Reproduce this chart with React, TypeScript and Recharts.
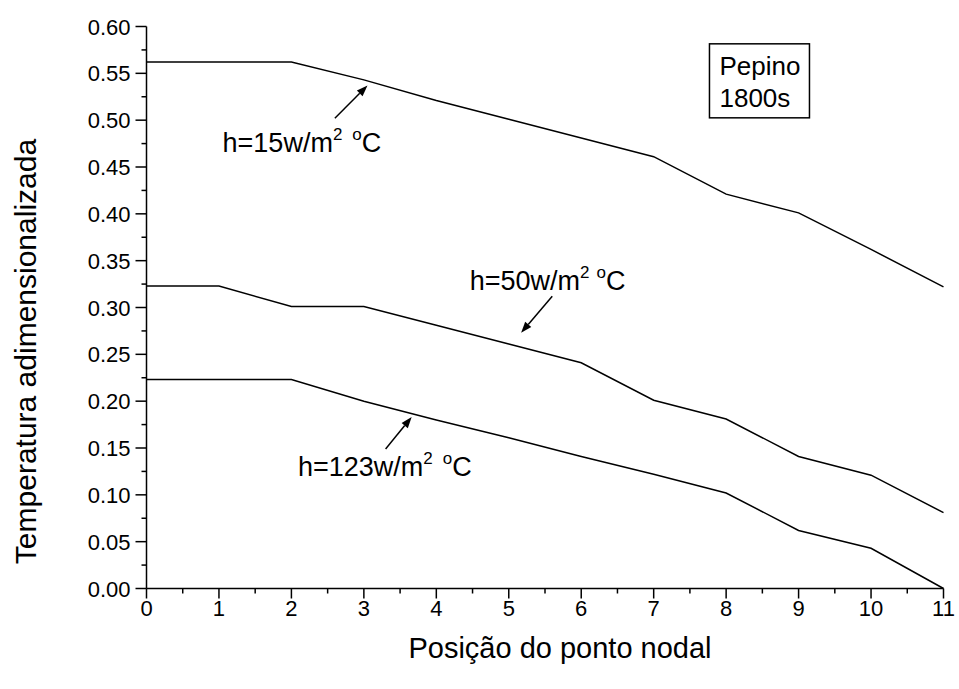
import React from 'react';
import { LineChart, Line, XAxis, YAxis, ReferenceLine, ReferenceDot, Label } from 'recharts';

const positions = [0, 1, 2, 3, 4, 5, 6, 7, 8, 9, 10, 11];
const h15 = [0.562, 0.562, 0.562, 0.543, 0.521, 0.501, 0.481, 0.461, 0.421, 0.401, 0.362, 0.322];
const h50 = [0.323, 0.323, 0.301, 0.301, 0.281, 0.261, 0.241, 0.201, 0.181, 0.141, 0.121, 0.081];
const h123 = [0.223, 0.223, 0.223, 0.2, 0.18, 0.161, 0.141, 0.122, 0.102, 0.062, 0.043, 0.0];

const xTicks = [0, 0.5, 1, 1.5, 2, 2.5, 3, 3.5, 4, 4.5, 5, 5.5, 6, 6.5, 7, 7.5, 8, 8.5, 9, 9.5, 10, 10.5, 11];
const yTicks = [0, 0.025, 0.05, 0.075, 0.1, 0.125, 0.15, 0.175, 0.2, 0.225, 0.25, 0.275, 0.3, 0.325, 0.35, 0.375, 0.4, 0.425, 0.45, 0.475, 0.5, 0.525, 0.55, 0.575, 0.6];

const data = positions.map((p, i) => ({ x: p, h15: h15[i], h50: h50[i], h123: h123[i] }));

const FONT = 'Liberation Sans, Arial, sans-serif';

const isMajorY = (v: number) => Math.abs(Math.round(v * 20) - v * 20) < 1e-6;
const isMajorX = (v: number) => Math.abs(Math.round(v) - v) < 1e-6;

const BottomTick = (props: any) => {
  const { x, y, payload } = props;
  const major = isMajorX(payload.value);
  return (
    <g>
      <line x1={x} y1={y} x2={x} y2={y + (major ? 10 : 5)} stroke="#000" strokeWidth={1.5} />
      {major && (
        <text x={x} y={y + 27} textAnchor="middle" fontSize={22} fontFamily={FONT} fill="#000">
          {payload.value}
        </text>
      )}
    </g>
  );
};

const LeftTick = (props: any) => {
  const { x, y, payload } = props;
  const major = isMajorY(payload.value);
  return (
    <g>
      <line x1={x} y1={y} x2={x - (major ? 11 : 5)} y2={y} stroke="#000" strokeWidth={1.5} />
      {major && (
        <text x={x - 16} y={y + 8} textAnchor="end" fontSize={22} fontFamily={FONT} fill="#000">
          {payload.value.toFixed(2)}
        </text>
      )}
    </g>
  );
};

const TopTick = (props: any) => {
  const { x, y } = props;
  return <line x1={x} y1={y} x2={x} y2={y + 3} stroke="#000" strokeWidth={1.5} />;
};

const RightTick = (props: any) => {
  const { x, y } = props;
  return <line x1={x} y1={y} x2={x + 3} y2={y} stroke="#000" strokeWidth={1.5} />;
};

const Arrow = (props: any) => {
  const { x1, y1, x2, y2 } = props;
  const ang = Math.atan2(y2 - y1, x2 - x1);
  const L = 11;
  const W = 4;
  const bx = x2 - L * Math.cos(ang);
  const by = y2 - L * Math.sin(ang);
  const px = -Math.sin(ang) * W;
  const py = Math.cos(ang) * W;
  return (
    <g>
      <line x1={x1} y1={y1} x2={bx} y2={by} stroke="#000" strokeWidth={1.5} />
      <polygon points={`${x2},${y2} ${bx + px},${by + py} ${bx - px},${by - py}`} fill="#000" />
    </g>
  );
};

const hLabel = (num: string, gap: number) => (props: any) => (
  <text x={props.cx} y={props.cy} fontSize={27} fontFamily={FONT} fill="#000">
    {`h=${num}w/m`}
    <tspan fontSize={17} dy={-12}>2</tspan>
    <tspan fontSize={17} dx={gap}>o</tspan>
    <tspan fontSize={27} dy={12}>C</tspan>
  </text>
);

const InfoBox = (props: any) => (
  <g>
    <rect x={props.cx} y={props.cy} width={100} height={74} fill="#fff" stroke="#000" strokeWidth={1.5} />
    <text x={props.cx + 10} y={props.cy + 31} fontSize={26} fontFamily={FONT} fill="#000">Pepino</text>
    <text x={props.cx + 10} y={props.cy + 63} fontSize={26} fontFamily={FONT} fill="#000">1800s</text>
  </g>
);

const YLabel = (props: any) => {
  const vb = props.viewBox;
  const cx = 25;
  const cy = vb.y + vb.height / 2 + 44;
  return (
    <text x={cx} y={cy} transform={`rotate(-90 ${cx} ${cy})`} textAnchor="middle" dominantBaseline="central" fontSize={30} fontFamily={FONT} fill="#000">
      Temperatura adimensionalizada
    </text>
  );
};

const XLabel = (props: any) => {
  const vb = props.viewBox;
  const cx = vb.x + vb.width / 2 + 15;
  return (
    <text x={cx} y={658} textAnchor="middle" fontSize={29} fontFamily={FONT} fill="#000">
      Posição do ponto nodal
    </text>
  );
};

export default function App() {
  return (
    <div style={{ position: 'absolute', left: 0, top: 0, width: 959, height: 689, background: '#fff' }}>
      <LineChart width={959} height={689} data={data} margin={{ top: 26.5, right: 15.5, left: 0, bottom: 0 }}>
        <XAxis
          xAxisId="b"
          dataKey="x"
          type="number"
          domain={[0, 11]}
          ticks={xTicks}
          interval={0}
          tickLine={false}
          tickSize={0}
          tickMargin={0}
          tick={<BottomTick />}
          height={100.5}
          axisLine={{ stroke: '#000', strokeWidth: 1.5 }}
        >
          <Label content={<XLabel />} />
        </XAxis>
        <XAxis
          xAxisId="t"
          orientation="top"
          dataKey="x"
          type="number"
          domain={[0, 11]}
          ticks={xTicks}
          interval={0}
          tickLine={false}
          tickSize={0}
          tickMargin={0}
          tick={<TopTick />}
          height={0}
          axisLine={{ stroke: '#000', strokeWidth: 1.5 }}
        />
        <YAxis
          yAxisId="l"
          type="number"
          domain={[0, 0.6]}
          ticks={yTicks}
          interval={0}
          tickLine={false}
          tickSize={0}
          tickMargin={0}
          tick={<LeftTick />}
          width={146.5}
          axisLine={{ stroke: '#000', strokeWidth: 1.5 }}
        >
          <Label content={<YLabel />} />
        </YAxis>
        <YAxis
          yAxisId="r"
          orientation="right"
          type="number"
          domain={[0, 0.6]}
          ticks={yTicks}
          interval={0}
          tickLine={false}
          tickSize={0}
          tickMargin={0}
          tick={<RightTick />}
          width={0}
          axisLine={{ stroke: '#000', strokeWidth: 1.5 }}
        />
        <Line xAxisId="b" yAxisId="l" dataKey="h15" stroke="#000" strokeWidth={1.5} dot={false} isAnimationActive={false} />
        <Line xAxisId="b" yAxisId="l" dataKey="h50" stroke="#000" strokeWidth={1.5} dot={false} isAnimationActive={false} />
        <Line xAxisId="b" yAxisId="l" dataKey="h123" stroke="#000" strokeWidth={1.5} dot={false} isAnimationActive={false} />

        <ReferenceLine xAxisId="b" yAxisId="l" segment={[{ x: 2.6, y: 0.502 }, { x: 3.05, y: 0.537 }]} shape={<Arrow />} ifOverflow="visible" />
        <ReferenceLine xAxisId="b" yAxisId="l" segment={[{ x: 5.6, y: 0.312 }, { x: 5.17, y: 0.273 }]} shape={<Arrow />} ifOverflow="visible" />
        <ReferenceLine xAxisId="b" yAxisId="l" segment={[{ x: 3.3, y: 0.149 }, { x: 3.66, y: 0.183 }]} shape={<Arrow />} ifOverflow="visible" />

        <ReferenceDot xAxisId="b" yAxisId="l" x={1.05} y={0.466} r={0} shape={hLabel('15', 10)} ifOverflow="visible" />
        <ReferenceDot xAxisId="b" yAxisId="l" x={4.46} y={0.319} r={0} shape={hLabel('50', 7)} ifOverflow="visible" />
        <ReferenceDot xAxisId="b" yAxisId="l" x={2.09} y={0.12} r={0} shape={hLabel('123', 10)} ifOverflow="visible" />
        <ReferenceDot xAxisId="b" yAxisId="l" x={7.77} y={0.5815} r={0} shape={<InfoBox />} ifOverflow="visible" />
      </LineChart>
    </div>
  );
}
